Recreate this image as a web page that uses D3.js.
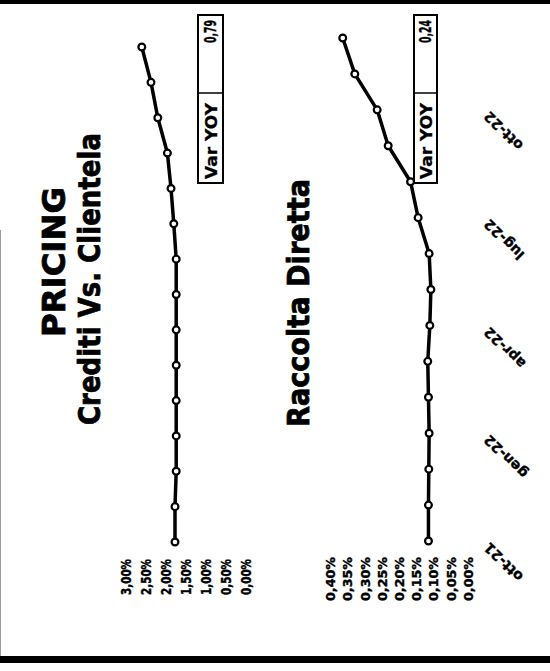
<!DOCTYPE html>
<html><head><meta charset="utf-8">
<script src="https://cdn.jsdelivr.net/npm/d3@7"></script>
<style>
html,body{margin:0;padding:0;background:#fff;}
svg{display:block;}
text{font-family:"DejaVu Sans",Verdana,sans-serif;font-weight:bold;fill:#000;}
</style></head>
<body>
<svg id="c" width="550" height="671"></svg>
<script>
// ---- data ----
const months = ["ott-21","nov-21","dic-21","gen-22","feb-22","mar-22","apr-22","mag-22","giu-22","lug-22","ago-22","set-22","ott-22","nov-22","dic-22"];
const monthLabels = ["ott-21","gen-22","apr-22","lug-22","ott-22"];
const creditiValues = [1.75,1.75,1.72,1.72,1.72,1.72,1.72,1.72,1.72,1.78,1.85,1.94,2.18,2.35,2.58];
const raccoltaValues = [0.114,0.114,0.113,0.112,0.114,0.116,0.110,0.107,0.112,0.144,0.166,0.231,0.263,0.328,0.363];
const creditiTicks = [0,0.5,1,1.5,2,2.5,3];
const raccoltaTicks = [0,0.05,0.10,0.15,0.20,0.25,0.30,0.35,0.40];
const titles = ["PRICING","Crediti Vs. Clientela","Raccolta Diretta"];
const varYoyLabel = "Var YOY";
const varYoyValues = [0.79, 0.24];

const svg = d3.select("#c");
const fmtPct = d => d.toFixed(2).replace(".", ",") + "%";
const fmtNum = d => d.toFixed(2).replace(".", ",");

// frame bands
svg.append("rect").attr("x",0).attr("y",0).attr("width",550).attr("height",4).attr("fill","#000");
svg.append("rect").attr("x",0).attr("y",656).attr("width",550).attr("height",7).attr("fill","#000");
svg.append("line").attr("x1",0.5).attr("x2",0.5).attr("y1",230).attr("y2",656).attr("stroke","#999").attr("stroke-width",1);

// titles
function vtext(x, y, str, size, len){
  const t = svg.append("text").attr("transform",`translate(${x},${y}) rotate(-90)`)
    .attr("text-anchor","middle").attr("font-size",size)
    .attr("stroke","#000").attr("stroke-width",0.8).text(str);
  if (len) t.attr("textLength",len).attr("lengthAdjust","spacingAndGlyphs");
  return t;
}
vtext(65, 262, titles[0], 32, 150);
vtext(100, 279, titles[1], 31, 292);
vtext(309, 303, titles[2], 31, 248);

// charts
const charts = [
  {values: creditiValues, ticks: creditiTicks, x: d3.scaleLinear([0,3],[245,125]),
   y: d3.scalePoint(months,[542,47]), fs: 14, len: 36, ty: 559, box:[198,223]},
  {values: raccoltaValues, ticks: raccoltaTicks, x: d3.scaleLinear([0,0.4],[467.7,330]),
   y: d3.scalePoint(months,[541,38]), fs: 13, len: 44, ty: 557, box:[414,437]}
];

charts.forEach((c, i) => {
  // value axis labels
  const ax = svg.append("g").attr("transform",`translate(0,${c.ty})`)
    .call(d3.axisBottom(c.x).tickValues(c.ticks).tickSize(0).tickFormat(fmtPct));
  ax.select(".domain").remove();
  ax.selectAll("text").attr("transform","rotate(-90)").attr("x",0).attr("y",0)
    .attr("dy","0.36em").attr("text-anchor","end").attr("font-size",c.fs)
    .attr("textLength",c.len).attr("lengthAdjust","spacingAndGlyphs")
    .attr("stroke","#000").attr("stroke-width",0.4)
    .style("font-family",'"DejaVu Sans",sans-serif').style("font-weight","bold");

  const pts = months.map((m, k) => [c.x(c.values[k]), c.y(m)]);
  svg.append("path").attr("d", d3.line()(pts)).attr("fill","none")
    .attr("stroke","#000").attr("stroke-width",3.5).attr("stroke-linejoin","round");
  svg.append("g").selectAll("circle").data(pts).join("circle")
    .attr("cx", d => d[0]).attr("cy", d => d[1]).attr("r",3.4)
    .attr("fill","#fff").attr("stroke","#000").attr("stroke-width",2.2);

  // Var YOY box
  const [bx0, bx1] = c.box, by0 = 15, by1 = 183, bmid = 93;
  const g = svg.append("g");
  g.append("rect").attr("x",bx0).attr("y",by0).attr("width",bx1-bx0).attr("height",by1-by0)
    .attr("fill","#fff").attr("stroke","#000").attr("stroke-width",2);
  g.append("line").attr("x1",bx0).attr("x2",bx1).attr("y1",bmid).attr("y2",bmid)
    .attr("stroke","#000").attr("stroke-width",1.5);
  const cx = (bx0+bx1)/2 + 0.5;
  g.append("text").attr("transform",`translate(${cx},${by1-4}) rotate(-90)`)
    .attr("dy","0.36em").attr("text-anchor","start").attr("font-size",16)
    .attr("textLength",76).attr("lengthAdjust","spacingAndGlyphs")
    .attr("stroke","#000").attr("stroke-width",0.3).text(varYoyLabel);
  g.append("text").attr("transform",`translate(${cx},${by0+5}) rotate(-90)`)
    .attr("dy","0.36em").attr("text-anchor","end").attr("font-size",15)
    .attr("textLength",23).attr("lengthAdjust","spacingAndGlyphs")
    .attr("stroke","#000").attr("stroke-width",0.4).text(fmtNum(varYoyValues[i]));
});

// category axis labels
const yCat = charts[1].y;
const cax = svg.append("g").attr("transform","translate(482,8)")
  .call(d3.axisRight(yCat).tickSize(0).tickFormat(d => monthLabels.includes(d) ? d : ""));
cax.select(".domain").remove();
cax.selectAll("text").attr("transform","rotate(-135)").attr("x",0).attr("y",0)
  .attr("dy","0.8em").attr("text-anchor","end").attr("font-size",14)
  .attr("stroke","#000").attr("stroke-width",0.4)
  .style("font-family",'"DejaVu Sans",sans-serif').style("font-weight","bold");
</script>
</body></html>
